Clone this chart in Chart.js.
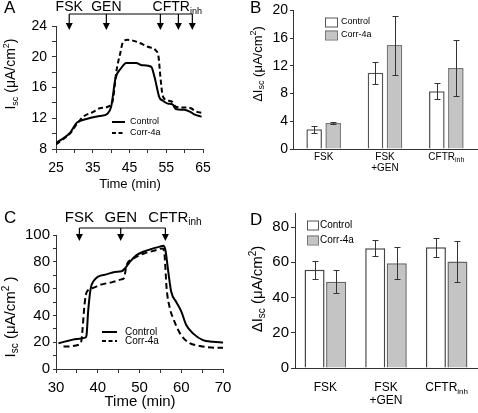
<!DOCTYPE html>
<html lang="en">
<head>
<meta charset="UTF-8">
<title>Isc traces and ΔIsc</title>
<script src="https://cdn.jsdelivr.net/npm/chart.js"></script>
<style>
  body { margin: 0; background: #fff; }
  .wrap { position: relative; width: 478px; height: 413px; }
  canvas { position: absolute; left: 0; top: 0; }
</style>
</head>
<body>
<div class="wrap">
  <canvas id="chartA" width="478" height="413"></canvas>
  <canvas id="chartB" width="478" height="413"></canvas>
  <canvas id="chartC" width="478" height="413"></canvas>
  <canvas id="chartD" width="478" height="413"></canvas>
</div>
<script>
// panel A traces (time in min, Isc in µA/cm2)
const aCtrlTime = [25, 27, 28.8, 30.6, 33.3, 36.9, 39, 40, 41.2, 42.7, 44.1, 46.8, 48.4, 50.9, 51.8, 53.1, 54, 55.4, 56.7, 57.6, 59.9, 61.7, 62.6, 64.6];
const aCtrlIsc  = [8.8, 9.4, 10.1, 11.4, 11.9, 12.3, 12.6, 13.5, 17.2, 18.5, 19.2, 19.2, 18.9, 18.7, 17.4, 14.75, 14.3, 13.9, 13.8, 13.2, 13.1, 12.8, 12.5, 12.2];
const aCorrTime = [25, 27, 28.8, 30.6, 32.4, 35, 36.9, 39.6, 40.5, 41.4, 42.5, 43.2, 44.5, 45.9, 47.7, 50, 52.2, 52.9, 53.4, 54, 54.9, 56.7, 57.6, 59.9, 61.7, 63, 64.8];
const aCorrIsc  = [8.6, 9.3, 10, 11.2, 12.2, 12.8, 13.3, 13.6, 14.4, 18, 20.5, 21.9, 22.2, 22.1, 21.8, 21.3, 20.8, 20, 17.4, 15, 14.4, 14.1, 13.5, 13.4, 13.3, 12.9, 12.7];
const aArrowTimes = [28.6, 38.7, 53.4, 58.3, 62.1];
const aDrugs = ['FSK', 'GEN', 'CFTR_{inh}'];
const aDrugTimes = [28.6, 38.7, 58.0];

// panel C traces
const cCtrlTime = [30.6, 35, 37, 37.3, 37.7, 38.3, 39.1, 40.1, 42.1, 44.1, 45.7, 46.5, 47.7, 49.3, 50.9, 53.3, 54.9, 55.7, 56.2, 56.9, 57.6, 58.8, 60, 61.2, 62.8, 65.2, 67.6, 70];
const cCtrlIsc  = [19.2, 22.4, 23.4, 25, 43, 60, 66, 69, 70.6, 72.4, 72.9, 75, 80, 85, 87.5, 90, 91.3, 92, 88.8, 72.4, 57.7, 50, 43, 32.8, 26.6, 21.6, 20.4, 19.7];
const cCorrTime = [31.8, 35.7, 36.1, 36.9, 37.3, 38.9, 40.5, 43.7, 45.7, 46.3, 46.9, 48.5, 50.9, 54.1, 55.5, 56, 56.5, 57.3, 58.1, 59.7, 61.7, 64.5, 68.5, 70];
const cCorrIsc  = [16.7, 18.4, 21.6, 50, 57, 60.5, 62.7, 65, 66.9, 68, 77.4, 82.3, 86, 88.8, 90, 85, 60, 45, 37.6, 26.6, 19.9, 17.2, 15.9, 15.9];
const cArrowTimes = [35.6, 45.5, 56.2];
const cDrugs = ['FSK', 'GEN', 'CFTR_{inh}'];
const cDrugTimes = [35.6, 45.5, 58.5];

// panels B and D: mean ΔIsc and error
const barCategories = ['FSK', 'FSK\n+GEN', 'CFTR_{inh}'];
const bControl    = [2.85, 11.0, 8.35];
const bControlErr = [0.5, 1.55, 1.2];
const bCorr       = [3.75, 15.0, 11.7];
const bCorrErr    = [0.15, 4.25, 4.05];
const dControl    = [55.8, 68, 68.5];
const dControlErr = [5.1, 4.6, 5.3];
const dCorr       = [49, 59.5, 60.5];
const dCorrErr    = [6.7, 9.2, 11.5];

const FONT = '"Liberation Sans", Arial, Helvetica, sans-serif';
Chart.defaults.font.family = FONT;
Chart.defaults.color = '#000';
Chart.defaults.animation = false;
Chart.defaults.plugins.legend.display = false;
Chart.defaults.plugins.tooltip.enabled = false;

const pts = (t, v) => t.map((x, i) => ({ x: x, y: v[i] }));

// text with _{sub} and ^{sup} parts
function rich(ctx, str, x, y, size, align) {
  const segs = [];
  const re = /([_^])\{([^}]*)\}|([^_^]+)/g;
  let m;
  while ((m = re.exec(str))) {
    if (m[1]) segs.push({ t: m[2], k: m[1] });
    else segs.push({ t: m[3], k: '' });
  }
  const fontFor = k => (k ? Math.round(size * 0.66) : size) + 'px ' + FONT;
  let w = 0;
  segs.forEach(s => { ctx.font = fontFor(s.k); s.w = ctx.measureText(s.t).width; w += s.w; });
  let cx = align === 'center' ? x - w / 2 : align === 'right' ? x - w : x;
  ctx.textAlign = 'left';
  ctx.textBaseline = 'middle';
  segs.forEach(s => {
    ctx.font = fontFor(s.k);
    const dy = s.k === '_' ? size * 0.3 : s.k === '^' ? -size * 0.35 : 0;
    ctx.fillText(s.t, cx, y + dy);
    cx += s.w;
  });
}

function vtitle(ctx, str, x, y, size) {
  ctx.save();
  ctx.translate(x, y);
  ctx.rotate(-Math.PI / 2);
  rich(ctx, str, 0, 0, size, 'center');
  ctx.restore();
}

function drawArrows(ctx, xs, yLine, yTip) {
  ctx.lineWidth = 1.2;
  ctx.beginPath();
  ctx.moveTo(xs[0], yLine);
  ctx.lineTo(xs[xs.length - 1], yLine);
  xs.forEach(x => { ctx.moveTo(x, yLine); ctx.lineTo(x, yTip - 5); });
  ctx.stroke();
  xs.forEach(x => {
    ctx.beginPath();
    ctx.moveTo(x - 3.5, yTip - 7);
    ctx.lineTo(x + 3.5, yTip - 7);
    ctx.lineTo(x, yTip);
    ctx.closePath();
    ctx.fill();
  });
}

function lineKey(ctx, x0, x1, y1, y2, tx, size) {
  ctx.lineWidth = 2;
  ctx.beginPath(); ctx.moveTo(x0, y1); ctx.lineTo(x1, y1); ctx.stroke();
  ctx.setLineDash([4, 2.5]);
  ctx.beginPath(); ctx.moveTo(x0, y2); ctx.lineTo(x1, y2); ctx.stroke();
  ctx.setLineDash([]);
  rich(ctx, 'Control', tx, y1, size, 'left');
  rich(ctx, 'Corr-4a', tx, y2, size, 'left');
}

function boxKey(ctx, x, y1, y2, w, h, tx, size) {
  ctx.lineWidth = 1;
  ctx.fillStyle = '#fff'; ctx.strokeStyle = '#555';
  ctx.fillRect(x, y1 - h / 2, w, h); ctx.strokeRect(x + 0.5, y1 - h / 2 + 0.5, w, h);
  ctx.fillStyle = '#c4c4c4'; ctx.strokeStyle = '#777';
  ctx.fillRect(x, y2 - h / 2, w, h); ctx.strokeRect(x + 0.5, y2 - h / 2 + 0.5, w, h);
  ctx.fillStyle = '#000';
  rich(ctx, 'Control', tx, y1, size, 'left');
  rich(ctx, 'Corr-4a', tx, y2, size, 'left');
}

function errorBars(chart, errs) {
  const ctx = chart.ctx, ys = chart.scales.y;
  ctx.save();
  ctx.strokeStyle = '#333';
  ctx.lineWidth = 1;
  chart.data.datasets.forEach((ds, di) => {
    chart.getDatasetMeta(di).data.forEach((bar, i) => {
      const v = ds.data[i], e = errs[di][i];
      const top = Math.round(ys.getPixelForValue(v + e)) + 0.5;
      const bot = Math.round(ys.getPixelForValue(v - e)) + 0.5;
      const x = Math.round(bar.x) + 0.5;
      ctx.beginPath();
      ctx.moveTo(x, top); ctx.lineTo(x, bot);
      ctx.moveTo(x - 3, top); ctx.lineTo(x + 3, top);
      ctx.moveTo(x - 3, bot); ctx.lineTo(x + 3, bot);
      ctx.stroke();
    });
  });
  ctx.restore();
}

function catLabels(chart, y, size, lineGap) {
  const ctx = chart.ctx, xs = chart.scales.x;
  barCategories.forEach((lab, i) => {
    const x = xs.getPixelForTick(i);
    lab.split('\n').forEach((ln, k) => rich(ctx, ln, x, y + k * lineGap, size, 'center'));
  });
}

function linAxis(o) {
  return {
    type: 'linear', min: o.min, max: o.max,
    afterFit: o.fit,
    ticks: {
      stepSize: o.step, autoSkip: false, maxRotation: 0, padding: o.pad, includeBounds: false,
      color: '#000', font: { size: o.size }, callback: o.cb
    },
    grid: { drawOnChartArea: false, color: '#333', tickLength: o.tl, lineWidth: 1 },
    border: { color: '#333', width: 1 }
  };
}

const catAxis = {
  type: 'category',
  afterFit: s => { s.height = 30; },
  ticks: { display: false },
  grid: { drawOnChartArea: false, drawTicks: false },
  border: { color: '#333', width: 1 }
};

// ---------- A ----------
new Chart(document.getElementById('chartA'), {
  type: 'line',
  data: {
    datasets: [
      { data: pts(aCtrlTime, aCtrlIsc), borderColor: '#000', borderWidth: 2 },
      { data: pts(aCorrTime, aCorrIsc), borderColor: '#000', borderWidth: 2, borderDash: [5, 3] }
    ]
  },
  options: {
    responsive: false,
    layout: { padding: { left: 16, top: 26, right: 275, bottom: 234 } },
    elements: { point: { radius: 0 }, line: { cubicInterpolationMode: 'monotone' } },
    scales: {
      x: linAxis({ min: 25, max: 65, step: 5, pad: 7, size: 14, tl: 4, fit: s => { s.height = 30; },
                   cb: v => ((v - 25) % 10 === 0 ? v : '') }),
      y: linAxis({ min: 8, max: 24, step: 2, pad: 5, size: 14, tl: 4, fit: s => { s.width = 40; },
                   cb: v => (v % 4 === 0 ? v : '') })
    }
  },
  plugins: [{
    id: 'decorA',
    afterDraw(chart) {
      const ctx = chart.ctx, xs = chart.scales.x;
      ctx.save();
      ctx.fillStyle = '#000'; ctx.strokeStyle = '#000';
      rich(ctx, 'A', 4, 8, 17, 'left');
      drawArrows(ctx, aArrowTimes.map(t => xs.getPixelForValue(t)), 14, 30);
      aDrugs.forEach((d, i) => rich(ctx, d, xs.getPixelForValue(aDrugTimes[i]), 7, 14, 'center'));
      lineKey(ctx, 112, 125, 122, 133, 130, 9);
      vtitle(ctx, 'I_{sc} (μA/cm^{2})', 11, 74, 14);
      rich(ctx, 'Time (min)', 130, 184, 13, 'center');
      ctx.restore();
    }
  }]
});

// ---------- B ----------
new Chart(document.getElementById('chartB'), {
  type: 'bar',
  data: {
    labels: barCategories,
    datasets: [
      { data: bControl, backgroundColor: '#fff', borderColor: '#555', borderWidth: 1.5 },
      { data: bCorr, backgroundColor: '#c4c4c4', borderColor: '#777', borderWidth: 1.5 }
    ]
  },
  options: {
    responsive: false,
    layout: { padding: { left: 253, top: 6, right: 1, bottom: 234 } },
    datasets: { bar: { categoryPercentage: 0.62, barPercentage: 0.82 } },
    scales: {
      x: catAxis,
      y: linAxis({ min: 0, max: 20, step: 4, pad: 2, size: 14, tl: 3, fit: s => { s.width = 40; } })
    }
  },
  plugins: [{
    id: 'decorB',
    afterDatasetsDraw(chart) { errorBars(chart, [bControlErr, bCorrErr]); },
    afterDraw(chart) {
      const ctx = chart.ctx;
      ctx.save();
      ctx.fillStyle = '#000';
      rich(ctx, 'B', 250, 8, 17, 'left');
      boxKey(ctx, 325, 22, 35, 12, 9, 341, 9);
      catLabels(chart, 157, 10, 11);
      vtitle(ctx, 'ΔI_{sc} (μA/cm^{2})', 258, 64, 13);
      ctx.restore();
    }
  }]
});

// ---------- C ----------
new Chart(document.getElementById('chartC'), {
  type: 'line',
  data: {
    datasets: [
      { data: pts(cCtrlTime, cCtrlIsc), borderColor: '#000', borderWidth: 2 },
      { data: pts(cCorrTime, cCorrIsc), borderColor: '#000', borderWidth: 2, borderDash: [6, 3.5] }
    ]
  },
  options: {
    responsive: false,
    layout: { padding: { left: 16, top: 235, right: 255, bottom: 14 } },
    elements: { point: { radius: 0 }, line: { cubicInterpolationMode: 'monotone' } },
    scales: {
      x: linAxis({ min: 30, max: 70, step: 5, pad: 6, size: 15, tl: 4, fit: s => { s.height = 30; },
                   cb: v => (v % 10 === 0 ? v : '') }),
      y: linAxis({ min: 0, max: 100, step: 10, pad: 3, size: 15, tl: 3, fit: s => { s.width = 40; },
                   cb: v => (v % 20 === 0 ? v : '') })
    }
  },
  plugins: [{
    id: 'decorC',
    afterDraw(chart) {
      const ctx = chart.ctx, xs = chart.scales.x;
      ctx.save();
      ctx.fillStyle = '#000'; ctx.strokeStyle = '#000';
      rich(ctx, 'C', 4, 218, 17, 'left');
      drawArrows(ctx, cArrowTimes.map(t => xs.getPixelForValue(t)), 228, 241);
      cDrugs.forEach((d, i) => rich(ctx, d, xs.getPixelForValue(cDrugTimes[i]), 218, 15, 'center'));
      lineKey(ctx, 102, 117, 332, 341, 125, 10);
      vtitle(ctx, 'I_{sc} (μA/cm^{2} )', 11, 317, 15);
      rich(ctx, 'Time (min)', 140, 402, 15, 'center');
      ctx.restore();
    }
  }]
});

// ---------- D ----------
new Chart(document.getElementById('chartD'), {
  type: 'bar',
  data: {
    labels: barCategories,
    datasets: [
      { data: dControl, backgroundColor: '#fff', borderColor: '#444', borderWidth: 1.5 },
      { data: dCorr, backgroundColor: '#c4c4c4', borderColor: '#666', borderWidth: 1.5 }
    ]
  },
  options: {
    responsive: false,
    layout: { padding: { left: 255, top: 213, right: 1, bottom: 15 } },
    datasets: { bar: { categoryPercentage: 0.71, barPercentage: 0.93 } },
    scales: {
      x: catAxis,
      y: linAxis({ min: 0, max: 88, step: 20, pad: 2, size: 15, tl: 4, fit: s => { s.width = 40; } })
    }
  },
  plugins: [{
    id: 'decorD',
    afterDatasetsDraw(chart) { errorBars(chart, [dControlErr, dCorrErr]); },
    afterDraw(chart) {
      const ctx = chart.ctx;
      ctx.save();
      ctx.fillStyle = '#000';
      rich(ctx, 'D', 250, 220, 17, 'left');
      boxKey(ctx, 307, 225, 240, 11, 9, 320, 10);
      catLabels(chart, 388, 12, 13);
      vtitle(ctx, 'ΔI_{sc} (μA/cm^{2})', 258, 289, 15);
      ctx.restore();
    }
  }]
});
</script>
</body>
</html>
